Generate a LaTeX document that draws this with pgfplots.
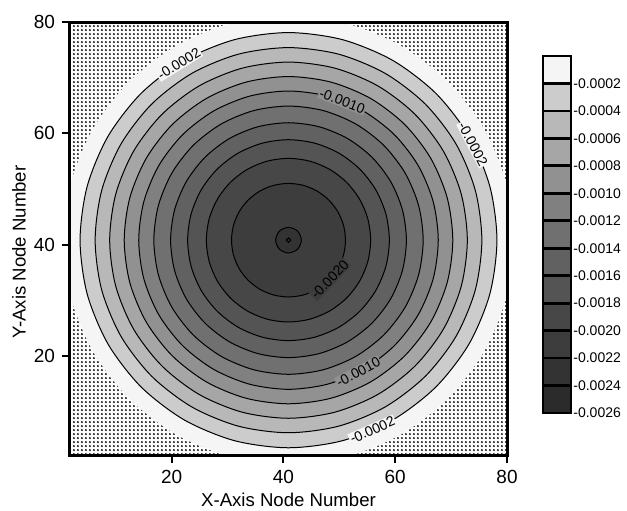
\documentclass[border=0pt]{standalone}
\usepackage{fontspec}
\setmainfont{Liberation Sans}
\usepackage{pgfplots}
\pgfplotsset{compat=1.18}
\usetikzlibrary{patterns}
\pgfdeclarepatternformonly{mydots}{\pgfqpoint{-1.1pt}{-1.1pt}}{\pgfqpoint{1.1pt}{1.1pt}}{\pgfqpoint{2.2pt}{2.2pt}}{\pgfpathcircle{\pgfqpoint{0pt}{0pt}}{0.6pt}\pgfusepath{fill}}
\definecolor{c1}{gray}{0.96}
\definecolor{c2}{gray}{0.80}
\definecolor{c3}{gray}{0.72}
\definecolor{c4}{gray}{0.65}
\definecolor{c5}{gray}{0.57}
\definecolor{c6}{gray}{0.50}
\definecolor{c7}{gray}{0.44}
\definecolor{c8}{gray}{0.38}
\definecolor{c9}{gray}{0.33}
\definecolor{c10}{gray}{0.28}
\definecolor{c11}{gray}{0.24}
\definecolor{c12}{gray}{0.20}
\definecolor{c13}{gray}{0.17}
\tikzset{lab/.style={font=\fontsize{7}{8}\selectfont, inner sep=0.5pt}}
\begin{document}
\begin{tikzpicture}
\useasboundingbox (-35pt,-27.5pt) rectangle (278.5pt,227.5pt);
\begin{axis}[
  at={(0pt,0pt)}, anchor=south west, scale only axis,
  width=218.5pt, height=216.5pt,
  xmin=-39.1, xmax=39.1, ymin=-38.6, ymax=39.2,
  xtick={-20.9,-0.9,19.1,39.1}, xticklabels={20,40,60,80},
  ytick={-20.8,-0.8,19.2,39.2}, yticklabels={20,40,60,80},
  xtick pos=left, ytick pos=left, tick align=outside,
  major tick length=4pt,
  every tick/.style={black, line width=1pt},
  axis line style={line width=1.5pt},
  ticklabel style={font=\fontsize{9.5}{10}\selectfont},
  label style={font=\fontsize{9.3}{10}\selectfont},
  xlabel={X-Axis Node Number}, ylabel={Y-Axis Node Number},
  xlabel style={at={(axis description cs:0.5,-0.104)}, anchor=center},
  ylabel style={at={(axis description cs:-0.117,0.469)}, anchor=center},
  axis on top,
  ring/.style={draw=black, line width=0.5pt, smooth cycle, data cs=polar},
]
% dotted background outside the plate
\addplot[pattern=mydots, draw=none] coordinates {(-45,-45) (45,-45) (45,45) (-45,45)};
% plate region (value > -0.0002)
\addplot[fill=c1, draw=none, smooth cycle, data cs=polar] coordinates {(0,40.3) (15,40.3) (30,40.3) (45,40.3) (60,40.3) (75,40.3) (90,40.3) (105,40.3) (120,40.3) (135,40.3) (150,40.3) (165,40.3) (180,40.3) (195,40.3) (210,40.3) (225,40.3) (240,40.3) (255,40.3) (270,40.3) (285,40.3) (300,40.3) (315,40.3) (330,40.3) (345,40.3)};
% contour -0.0002
\addplot[ring, fill=c2] coordinates {(0,37.3) (15,37.3) (30,37.3) (45,37.3) (60,37.3) (75,37.3) (90,37.3) (105,37.3) (120,37.3) (135,37.3) (150,37.3) (165,37.3) (180,37.3) (195,37.3) (210,37.3) (225,37.3) (240,37.3) (255,37.3) (270,37.3) (285,37.3) (300,37.3) (315,37.3) (330,37.3) (345,37.3)};
% contour -0.0004
\addplot[ring, fill=c3] coordinates {(0,34.6) (15,34.6) (30,34.6) (45,34.6) (60,34.6) (75,34.6) (90,34.6) (105,34.6) (120,34.6) (135,34.6) (150,34.6) (165,34.6) (180,34.6) (195,34.6) (210,34.6) (225,34.6) (240,34.6) (255,34.6) (270,34.6) (285,34.6) (300,34.6) (315,34.6) (330,34.6) (345,34.6)};
% contour -0.0006
\addplot[ring, fill=c4] coordinates {(0,32.0) (15,32.0) (30,32.0) (45,32.0) (60,32.0) (75,32.0) (90,32.0) (105,32.0) (120,32.0) (135,32.0) (150,32.0) (165,32.0) (180,32.0) (195,32.0) (210,32.0) (225,32.0) (240,32.0) (255,32.0) (270,32.0) (285,32.0) (300,32.0) (315,32.0) (330,32.0) (345,32.0)};
% contour -0.0008
\addplot[ring, fill=c5] coordinates {(0,29.4) (15,29.4) (30,29.4) (45,29.4) (60,29.4) (75,29.4) (90,29.4) (105,29.4) (120,29.4) (135,29.4) (150,29.4) (165,29.4) (180,29.4) (195,29.4) (210,29.4) (225,29.4) (240,29.4) (255,29.4) (270,29.4) (285,29.4) (300,29.4) (315,29.4) (330,29.4) (345,29.4)};
% contour -0.0010
\addplot[ring, fill=c6] coordinates {(0,26.8) (15,26.8) (30,26.8) (45,26.8) (60,26.8) (75,26.8) (90,26.8) (105,26.8) (120,26.8) (135,26.8) (150,26.8) (165,26.8) (180,26.8) (195,26.8) (210,26.8) (225,26.8) (240,26.8) (255,26.8) (270,26.8) (285,26.8) (300,26.8) (315,26.8) (330,26.8) (345,26.8)};
% contour -0.0012
\addplot[ring, fill=c7] coordinates {(0,24.1) (15,24.1) (30,24.1) (45,24.1) (60,24.1) (75,24.1) (90,24.1) (105,24.1) (120,24.1) (135,24.1) (150,24.1) (165,24.1) (180,24.1) (195,24.1) (210,24.1) (225,24.1) (240,24.1) (255,24.1) (270,24.1) (285,24.1) (300,24.1) (315,24.1) (330,24.1) (345,24.1)};
% contour -0.0014
\addplot[ring, fill=c8] coordinates {(0,21.1) (15,21.1) (30,21.1) (45,21.1) (60,21.1) (75,21.1) (90,21.1) (105,21.1) (120,21.1) (135,21.1) (150,21.1) (165,21.1) (180,21.1) (195,21.1) (210,21.1) (225,21.1) (240,21.1) (255,21.1) (270,21.1) (285,21.1) (300,21.1) (315,21.1) (330,21.1) (345,21.1)};
% contour -0.0016
\addplot[ring, fill=c9] coordinates {(0,18.05) (15,18.05) (30,18.05) (45,18.05) (60,18.05) (75,18.05) (90,18.05) (105,18.05) (120,18.05) (135,18.05) (150,18.05) (165,18.05) (180,18.05) (195,18.05) (210,18.05) (225,18.05) (240,18.05) (255,18.05) (270,18.05) (285,18.05) (300,18.05) (315,18.05) (330,18.05) (345,18.05)};
% contour -0.0018
\addplot[ring, fill=c10] coordinates {(0,14.7) (15,14.7) (30,14.7) (45,14.7) (60,14.7) (75,14.7) (90,14.7) (105,14.7) (120,14.7) (135,14.7) (150,14.7) (165,14.7) (180,14.7) (195,14.7) (210,14.7) (225,14.7) (240,14.7) (255,14.7) (270,14.7) (285,14.7) (300,14.7) (315,14.7) (330,14.7) (345,14.7)};
% contour -0.0020
\addplot[ring, fill=c11] coordinates {(0,10.2) (15,10.2) (30,10.2) (45,10.2) (60,10.2) (75,10.2) (90,10.2) (105,10.2) (120,10.2) (135,10.2) (150,10.2) (165,10.2) (180,10.2) (195,10.2) (210,10.2) (225,10.2) (240,10.2) (255,10.2) (270,10.2) (285,10.2) (300,10.2) (315,10.2) (330,10.2) (345,10.2)};
% contour -0.0022
\addplot[ring, fill=c12] coordinates {(0,2.3) (45,2.3) (90,2.3) (135,2.3) (180,2.3) (225,2.3) (270,2.3) (315,2.3)};
% centre diamond
\addplot[draw=black, line width=0.5pt, data cs=polar, line cap=rect] coordinates {(0,0.4) (90,0.4) (180,0.4) (270,0.4) (0,0.4)};
% contour labels
\node[lab, fill=c1, rotate=31.7] at (axis cs:-19.6,31.7) {-0.0002};
\node[lab, fill=c5, rotate=-21] at (axis cs:9.6,25.0) {-0.0010};
\node[lab, fill=c1, rotate=-62.3] at (axis cs:33.0,17.3) {-0.0002};
\node[lab, fill=c11, rotate=46.3] at (axis cs:7.4,-7.05) {-0.0020};
\node[lab, fill=c5, rotate=27.8] at (axis cs:12.5,-23.7) {-0.0010};
\node[lab, fill=c1, rotate=23.7] at (axis cs:15.0,-34.1) {-0.0002};
\end{axis}
% colour bar
\begin{axis}[
  at={(236.5pt,21pt)}, anchor=south west, scale only axis,
  width=14pt, height=178.5pt,
  xmin=0, xmax=1, ymin=-26, ymax=0,
  axis line style={draw=none}, clip=false,
  xtick=\empty,
  ytick={-26,-24,...,-2},
  yticklabels={-0.0026,-0.0024,-0.0022,-0.0020,-0.0018,-0.0016,-0.0014,-0.0012,-0.0010,-0.0008,-0.0006,-0.0004,-0.0002},
  yticklabel pos=right, major tick length=0pt,
  yticklabel style={font=\fontsize{7}{8}\selectfont, inner xsep=1pt},
  sw/.style={draw=black, line width=1.4pt, line cap=rect},
]
\addplot[sw, fill=c1] coordinates {(0,0) (1,0) (1,-2) (0,-2) (0,0)};
\addplot[sw, fill=c2] coordinates {(0,-2) (1,-2) (1,-4) (0,-4) (0,-2)};
\addplot[sw, fill=c3] coordinates {(0,-4) (1,-4) (1,-6) (0,-6) (0,-4)};
\addplot[sw, fill=c4] coordinates {(0,-6) (1,-6) (1,-8) (0,-8) (0,-6)};
\addplot[sw, fill=c5] coordinates {(0,-8) (1,-8) (1,-10) (0,-10) (0,-8)};
\addplot[sw, fill=c6] coordinates {(0,-10) (1,-10) (1,-12) (0,-12) (0,-10)};
\addplot[sw, fill=c7] coordinates {(0,-12) (1,-12) (1,-14) (0,-14) (0,-12)};
\addplot[sw, fill=c8] coordinates {(0,-14) (1,-14) (1,-16) (0,-16) (0,-14)};
\addplot[sw, fill=c9] coordinates {(0,-16) (1,-16) (1,-18) (0,-18) (0,-16)};
\addplot[sw, fill=c10] coordinates {(0,-18) (1,-18) (1,-20) (0,-20) (0,-18)};
\addplot[sw, fill=c11] coordinates {(0,-20) (1,-20) (1,-22) (0,-22) (0,-20)};
\addplot[sw, fill=c12] coordinates {(0,-22) (1,-22) (1,-24) (0,-24) (0,-22)};
\addplot[sw, fill=c13] coordinates {(0,-24) (1,-24) (1,-26) (0,-26) (0,-24)};
\end{axis}
\end{tikzpicture}
\end{document}
